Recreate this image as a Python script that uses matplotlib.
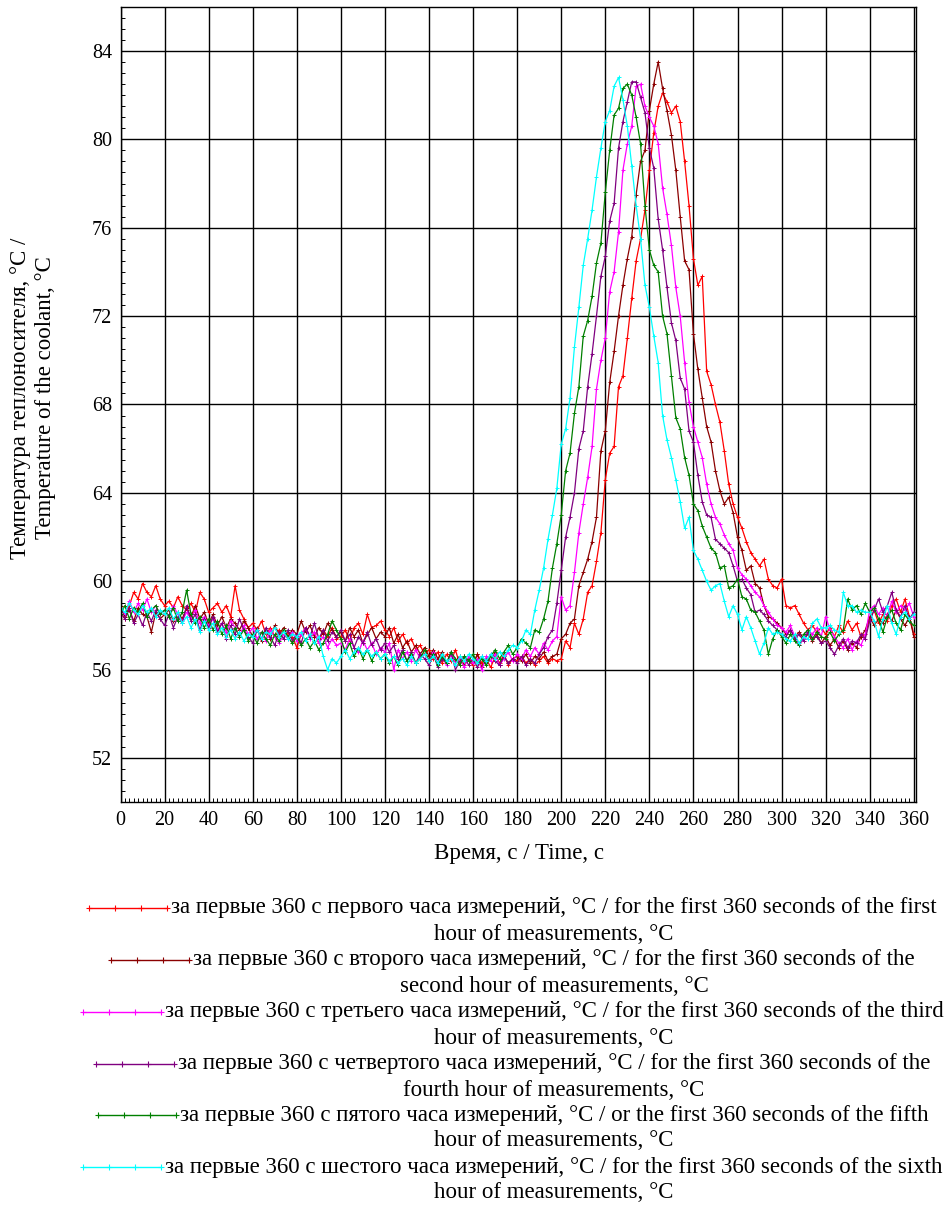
import numpy as np
import matplotlib
matplotlib.use("Agg")
import matplotlib.pyplot as plt
from matplotlib.lines import Line2D
from matplotlib.ticker import MultipleLocator

plt.rcParams['font.family'] = ['Liberation Serif', 'DejaVu Serif']

# time, s (one reading every 2 s)
t = list(range(0, 361, 2))

# temperature of the coolant, first 360 s of each hour
hour1 = [58.6, 58.3, 58.9, 59.5, 59.2, 59.9, 59.5, 59.3, 59.8, 59.2,
         58.9, 59.1, 58.8, 59.3, 58.9, 58.7, 59.0, 58.6, 59.5, 59.2,
         58.6, 58.8, 59.0, 58.6, 58.9, 58.4, 59.8, 58.7, 58.3, 57.9,
         58.1, 57.8, 58.2, 57.6, 57.9, 57.5, 57.8, 57.4, 57.7, 57.5,
         57.0, 57.6, 57.9, 57.5, 57.6, 57.2, 57.8, 57.5, 57.9, 57.4,
         57.5, 57.8, 57.3, 57.9, 58.1, 57.6, 58.5, 57.9, 58.0, 58.2,
         57.8, 57.5, 57.9, 57.3, 57.6, 57.2, 57.4, 56.9, 57.1, 56.7,
         56.9, 56.5, 56.8, 56.3, 56.7, 56.4, 56.9, 56.2, 56.6, 56.4,
         56.2, 56.7, 56.3, 56.5, 56.1, 56.6, 56.3, 56.7, 56.2, 56.5,
         56.4, 56.6, 56.3, 56.5, 56.2, 56.4, 56.6, 56.3, 56.5, 56.4,
         56.5, 57.3, 57.0, 58.1, 57.6, 58.3, 59.5, 59.8, 60.9, 62.2,
         64.6, 65.8, 66.1, 68.8, 69.3, 71.0, 72.8, 74.5, 75.5, 76.8,
         78.6, 80.3, 81.5, 82.1, 81.7, 81.2, 81.5, 80.8, 79.0, 77.0,
         74.6, 73.4, 73.8, 69.5, 68.9, 68.0, 67.2, 65.9, 64.4, 63.5,
         62.9, 62.4, 61.8, 61.3, 61.0, 60.7, 61.0, 60.1, 59.8, 59.7,
         60.1, 58.9, 58.8, 58.9, 58.5, 58.1, 57.8, 58.0, 57.7, 57.9,
         57.6, 57.9, 57.5, 58.0, 57.7, 58.2, 57.8, 58.1, 57.5, 57.6,
         58.3, 58.7, 58.1, 58.5, 58.2, 58.9, 59.2, 58.6, 59.2, 58.4,
         57.6]

hour2 = [58.9, 58.4, 58.7, 58.2, 58.8, 58.5, 58.4, 57.7, 58.6, 58.3,
         58.5, 58.7, 58.2, 58.6, 58.3, 58.8, 58.4, 58.9, 58.3, 58.6,
         58.1, 58.5, 58.0, 58.4, 57.9, 58.3, 58.1, 57.8, 58.2, 57.9,
         57.5, 57.9, 57.3, 57.8, 57.4, 58.0, 57.6, 57.9, 57.5, 57.8,
         57.6, 58.2, 57.7, 58.0, 57.5, 57.9, 57.6, 58.1, 57.8, 57.5,
         57.7, 57.3, 57.9, 57.5, 57.8, 57.2, 57.6, 57.9, 57.4, 57.7,
         57.5, 57.9, 57.2, 57.6, 57.0, 57.3, 56.8, 57.1, 56.7, 57.0,
         56.6, 56.9, 56.5, 56.8, 56.3, 56.7, 56.4, 56.6, 56.2, 56.5,
         56.3, 56.7, 56.1, 56.5, 56.4, 56.8, 56.2, 56.6, 56.3, 56.5,
         56.6, 56.4, 56.7, 56.3, 56.6, 56.5, 56.8, 56.4, 56.6, 56.7,
         57.4, 57.6, 58.1, 58.3, 59.8, 60.4, 61.0, 61.8, 62.9, 65.9,
         66.8, 69.0, 70.4, 72.0, 73.4, 74.6, 75.6, 77.5, 79.0, 79.5,
         81.3, 82.5, 83.5, 82.3, 81.3, 80.2, 78.6, 76.5, 74.5, 74.1,
         71.2, 69.6, 68.3, 67.0, 66.3, 65.0, 64.1, 63.5, 63.8, 63.1,
         62.0, 61.4, 60.5, 60.7, 59.9, 59.7, 58.9, 58.4, 58.3, 58.1,
         57.9, 57.6, 57.8, 57.5, 57.7, 57.4, 57.6, 57.3, 57.6, 57.2,
         57.5, 57.1, 57.4, 57.0, 57.3, 56.9, 57.2, 57.0, 57.5, 57.8,
         58.4, 58.0, 58.3, 58.1, 58.5, 58.2, 58.7, 58.3, 58.0, 58.4,
         57.5]

hour3 = [58.8, 58.5, 59.1, 58.6, 59.0, 58.7, 59.2, 58.6, 58.9, 58.5,
         58.7, 58.4, 58.9, 58.5, 58.2, 58.6, 58.3, 58.7, 58.1, 58.4,
         58.0, 58.3, 57.8, 58.1, 57.7, 58.2, 57.9, 57.5, 58.0, 57.6,
         57.9, 57.4, 57.7, 57.3, 57.8, 57.5, 57.2, 57.6, 57.4, 57.7,
         57.3, 57.6, 57.9, 57.4, 57.7, 57.2, 57.5, 57.0, 57.4, 57.1,
         57.2, 56.9, 57.4, 57.0, 56.8, 57.3, 56.9, 57.2, 56.7, 57.0,
         56.8, 57.2, 56.0, 56.9, 56.5, 56.8, 56.4, 56.9, 56.5, 56.7,
         56.4, 56.8, 56.3, 56.6, 56.2, 56.7, 56.4, 56.5, 56.1, 56.6,
         56.3, 56.5, 56.0, 56.6, 56.4, 56.7, 56.2, 56.5, 56.8, 56.4,
         56.7, 56.5, 56.9, 56.6, 57.0, 56.7, 57.2, 56.9, 57.3, 57.5,
         59.3, 58.7, 58.9, 60.4, 62.2, 63.5, 64.7, 66.1, 68.7, 70.0,
         71.0, 73.1, 74.0, 75.8, 78.6, 79.8, 80.6, 82.4, 82.5, 81.5,
         81.0, 80.6, 79.8, 77.8, 76.6, 75.2, 73.3, 72.0, 69.9, 68.1,
         67.0, 66.3, 65.6, 64.4, 63.5, 62.9, 62.6, 62.1, 61.7, 61.4,
         60.6, 60.3, 60.1, 59.8, 59.5, 59.3, 58.9, 58.6, 58.3, 58.0,
         57.9, 57.7, 58.0, 57.5, 57.1, 57.4, 57.8, 57.6, 57.9, 57.5,
         58.4, 57.8, 57.5, 57.2, 57.0, 57.4, 56.9, 57.3, 57.1, 57.6,
         58.7, 58.9, 58.5, 58.8, 58.4, 59.1, 58.6, 58.9, 58.7, 59.0,
         58.4]

hour4 = [58.6, 58.3, 58.8, 58.1, 58.5, 58.0, 58.6, 58.2, 58.7, 58.3,
         58.0, 58.5, 57.9, 58.4, 58.1, 58.9, 58.2, 58.5, 57.8, 58.3,
         57.9, 58.4, 57.7, 58.1, 57.4, 58.0, 57.6, 58.3, 57.8, 57.5,
         57.2, 57.8, 57.4, 57.9, 57.5, 57.1, 57.7, 57.4, 57.8, 57.3,
         57.6, 57.2, 57.9, 57.5, 58.1, 57.4, 57.8, 57.3, 57.7, 57.5,
         57.8, 57.3, 57.6, 57.0, 57.5, 57.2, 57.7, 57.1, 57.4, 56.9,
         57.2, 56.8, 57.1, 56.5, 56.9, 56.4, 56.8, 56.3, 56.7, 56.5,
         56.2, 56.7, 56.1, 56.5, 56.3, 56.8, 56.0, 56.4, 56.6, 56.2,
         56.5, 56.1, 56.6, 56.3, 56.7, 56.4, 56.2, 56.6, 56.3, 56.5,
         56.3, 56.6, 56.2, 56.5, 56.3, 56.7, 57.0, 57.5, 57.8, 59.0,
         60.5, 62.0, 62.9, 64.0, 66.0, 66.8, 68.8, 70.3, 72.0, 73.8,
         74.7, 76.3, 77.1, 79.6, 80.8, 81.7, 82.6, 82.6, 81.9, 81.2,
         79.6, 78.7, 76.4, 75.0, 73.3, 71.7, 70.9, 69.2, 68.7, 66.8,
         66.3, 64.8, 63.6, 63.0, 62.9, 61.9, 61.7, 61.5, 61.3, 60.7,
         60.0, 60.1, 59.7, 59.4, 58.6, 58.7, 58.5, 58.2, 58.0, 57.8,
         57.6, 57.5, 57.8, 57.4, 57.6, 57.3, 57.7, 57.4, 57.5, 57.2,
         57.3, 57.0, 56.7, 57.1, 57.4, 57.0, 57.3, 57.2, 57.6, 57.4,
         58.2, 58.7, 59.2, 58.6, 58.9, 59.5, 58.7, 58.4, 58.9, 58.3,
         58.6]

hour5 = [58.5, 58.9, 58.3, 58.8, 58.6, 59.0, 58.4, 58.7, 58.9, 58.5,
         58.7, 58.4, 58.8, 58.2, 58.6, 59.6, 58.5, 58.1, 58.4, 57.9,
         58.3, 57.8, 58.2, 57.6, 58.0, 57.4, 57.9, 57.5, 57.8, 57.3,
         57.6, 57.2, 57.7, 57.4, 57.1, 57.6, 57.3, 57.8, 57.5, 57.2,
         57.5, 57.1, 57.4, 57.0, 57.3, 56.9, 57.2, 57.6, 58.2, 57.8,
         57.4, 56.8, 57.2, 56.6, 57.0, 56.5, 56.9, 56.4, 56.8, 56.5,
         56.7, 56.3, 56.6, 56.2, 56.8, 56.4, 56.7, 56.3, 56.5, 56.9,
         56.4, 56.7, 56.2, 56.6, 56.3, 56.8, 56.5, 56.2, 56.6, 56.4,
         56.7, 56.3, 56.5, 56.2, 56.6, 56.9, 56.5, 56.8, 57.1, 56.7,
         57.0, 57.4, 57.2, 57.0, 57.8, 57.7, 58.3, 59.1, 60.6, 61.7,
         63.0, 65.0, 65.8, 67.6, 68.8, 71.1, 71.8, 72.9, 74.4, 75.3,
         77.6, 79.5, 81.1, 81.4, 82.3, 82.5, 82.0, 81.0, 79.8, 77.0,
         75.0, 74.3, 74.0, 72.0, 71.2, 69.3, 67.4, 66.9, 65.6, 64.8,
         63.5, 63.2, 62.5, 62.0, 61.5, 61.3, 60.6, 60.7, 59.7, 59.8,
         60.1, 59.3, 59.2, 58.7, 58.6, 58.2, 57.8, 56.7, 57.4, 57.8,
         57.5, 57.2, 57.6, 57.3, 57.1, 57.6, 57.8, 57.4, 57.7, 57.5,
         57.4, 57.7, 57.3, 57.6, 57.8, 59.2, 58.7, 58.9, 58.5, 59.0,
         58.6, 58.8, 58.3, 57.7, 58.4, 58.7, 58.1, 57.8, 58.5, 58.2,
         58.0]

hour6 = [58.8, 58.6, 59.0, 58.7, 58.5, 58.9, 58.6, 58.8, 58.4, 58.7,
         58.5, 58.8, 58.3, 58.6, 58.1, 58.4, 57.9, 58.3, 57.7, 58.2,
         57.8, 58.1, 57.6, 57.9, 57.5, 57.8, 57.4, 57.7, 57.3, 57.6,
         57.5, 57.8, 57.4, 57.7, 57.6, 57.9, 57.5, 57.7, 57.4, 57.6,
         57.5, 57.7, 57.3, 57.6, 57.2, 57.5, 56.6, 56.0, 56.5, 56.3,
         56.6, 56.9, 56.5, 56.8, 57.0, 56.7, 56.9, 56.6, 56.8, 56.5,
         56.7, 56.4, 56.6, 56.3, 56.5, 56.2, 56.6, 56.3, 56.5, 56.7,
         56.4, 56.6, 56.3, 56.7, 56.4, 56.5, 56.2, 56.6, 56.4, 56.7,
         56.5, 56.3, 56.6, 56.4, 56.7, 56.5, 56.8, 56.6, 56.9, 57.1,
         57.0, 57.3, 57.8, 57.6, 58.7, 59.6, 60.6, 61.9, 63.0, 64.2,
         66.2, 66.9, 68.3, 70.6, 72.4, 74.3, 75.5, 76.8, 78.3, 79.6,
         80.8, 81.3, 82.4, 82.8, 81.8, 80.6, 78.8, 77.0, 75.5, 73.4,
         72.4, 71.1, 69.9, 67.5, 66.4, 65.6, 64.6, 63.6, 62.4, 62.9,
         61.4, 61.0, 60.5, 60.0, 59.6, 59.8, 59.9, 59.1, 58.4, 58.9,
         58.5, 57.8, 58.4, 57.9, 57.3, 56.7, 57.2, 57.9, 57.6, 57.7,
         57.6, 57.4, 57.3, 57.6, 57.2, 57.5, 57.4, 58.1, 58.3, 57.9,
         57.9, 58.0, 57.8, 57.7, 59.5, 58.9, 58.9, 58.6, 58.7, 58.6,
         58.6, 58.2, 57.5, 58.3, 58.9, 58.1, 57.6, 58.4, 58.6, 58.3,
         58.5]

colors = ['#ff0000', '#8b0000', '#ff00ff', '#800080', '#008000', '#00ffff']

legend_top = [
    'за первые 360 с первого часа измерений, °C / for the first 360 seconds of the first',
    'за первые 360 с второго часа измерений, °C / for the first 360 seconds of the',
    'за первые 360 с третьего часа измерений, °C / for the first 360 seconds of the third',
    'за первые 360 с четвертого часа измерений, °C / for the first 360 seconds of the',
    'за первые 360 с пятого часа измерений, °C / or the first 360 seconds of the fifth',
    'за первые 360 с шестого часа измерений, °C / for the first 360 seconds of the sixth',
]
legend_bottom = [
    'hour of measurements, °C',
    'second hour of measurements, °C',
    'hour of measurements, °C',
    'fourth hour of measurements, °C',
    'hour of measurements, °C',
    'hour of measurements, °C',
]

W, H = 948, 1207
fig = plt.figure(figsize=(W / 100, H / 100), dpi=100)
ax = fig.add_axes([120.5 / W, 1 - 802.3 / H, 795.5 / W, 795.6 / H])

for y, c in zip([hour1, hour2, hour3, hour4, hour5, hour6], colors):
    assert len(y) == len(t)
    ax.plot(t, y, color=c, lw=0.9, marker='+', ms=3.5, mew=0.7)

ax.set_xlim(0, 361)
ax.set_ylim(50, 86)
ax.set_xticks(range(0, 361, 20))
ax.set_yticks(range(52, 85, 4))
ax.xaxis.set_minor_locator(MultipleLocator(2))
ax.yaxis.set_minor_locator(MultipleLocator(0.5))
ax.tick_params(which='both', direction='in', labelsize=14.5, colors='black')
ax.tick_params(which='major', length=0, pad=6)
ax.tick_params(which='minor', length=3, width=0.7)
ax.grid(True, which='major', color='black', lw=1.0)
for s in ax.spines.values():
    s.set_linewidth(1.0)

fig.text(519 / W, 1 - 853 / H, 'Время, с / Time, с', ha='center', va='center', fontsize=16.5)
fig.text(33 / W, 1 - 398 / H,
         'Температура теплоносителя, °C /\nTemperature of the coolant, °C',
         rotation=90, ha='center', va='center', fontsize=16.5, multialignment='center',
         linespacing=1.3)

# legend under the chart: handle + two centred lines
renderer = fig.canvas.get_renderer()
line1_y = [908, 960, 1012, 1064, 1115, 1167]
for i in range(6):
    y1 = 1 - line1_y[i] / H
    txt = fig.text(554 / W, y1, legend_top[i], ha='center', va='center', fontsize=16.5)
    fig.text(554 / W, y1 - 26 / H, legend_bottom[i], ha='center', va='center', fontsize=16.5)
    bb = txt.get_window_extent(renderer)
    x_end = bb.x0 - 4
    hx = [(x_end - 78 + k * 26) / W for k in range(4)]
    fig.add_artist(Line2D(hx, [y1] * 4, transform=fig.transFigure, color=colors[i],
                          lw=1, marker='+', ms=4, mew=0.8))

fig.savefig('out.png', dpi=100)
